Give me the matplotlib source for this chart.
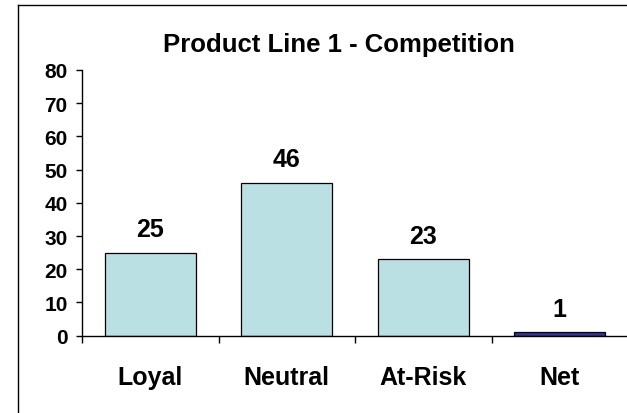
import matplotlib
matplotlib.use("Agg")
import matplotlib.pyplot as plt
from matplotlib.lines import Line2D
from matplotlib.ticker import MultipleLocator, FixedLocator

categories = ["Loyal", "Neutral", "At-Risk", "Net"]
values = [25, 46, 23, 1]
bar_colors = ["#BBE0E3", "#BBE0E3", "#BBE0E3", "#333399"]
title = "Product Line 1 - Competition"

plt.rcParams["font.family"] = ["Liberation Sans", "DejaVu Sans"]
plt.rcParams["font.weight"] = "bold"

W, H = 627, 414
fig = plt.figure(figsize=(W / 100, H / 100), dpi=100)
fig.patch.set_facecolor("white")

# chart-area frame (left and top edges visible)
fig.add_artist(Line2D([18 / W, 18 / W], [0, 1 - 6 / H], transform=fig.transFigure,
                      color="black", lw=1.0))
fig.add_artist(Line2D([18 / W, 1.0], [1 - 6 / H, 1 - 6 / H], transform=fig.transFigure,
                      color="black", lw=1.0))

ax = fig.add_axes([82 / W, (H - 336.7) / H, (628 - 82) / W, (336.7 - 71) / H])
x = list(range(len(categories)))
ax.bar(x, values, width=0.67, color=bar_colors, edgecolor="black", linewidth=0.9)

ax.set_xlim(-0.5, len(categories) - 0.5)
ax.set_ylim(0, 80)
ax.yaxis.set_major_locator(MultipleLocator(10))

for s in ["top", "right"]:
    ax.spines[s].set_visible(False)
for s in ["left", "bottom"]:
    ax.spines[s].set_linewidth(1.0)
ax.spines["bottom"].set_zorder(5)

ax.tick_params(axis="y", direction="out", length=4.3, width=1.0, pad=6,
               labelsize=15)
for lbl in ax.get_yticklabels():
    lbl.set_fontweight("bold")

ax.set_xticks(x)
ax.set_xticklabels(categories, fontsize=18, fontweight="bold")
ax.tick_params(axis="x", which="major", length=0, pad=21)
ax.xaxis.set_minor_locator(FixedLocator([i - 0.5 for i in range(len(categories) + 1)]))
ax.tick_params(axis="x", which="minor", direction="out", length=5, width=1.0)

for xi, v in zip(x, values):
    ax.annotate(f"{v}", (xi, v), xytext=(0, 12), textcoords="offset points",
                ha="center", va="baseline", fontsize=18, fontweight="bold")

fig.text(338.5 / W, 1 - 52 / H, title, ha="center", va="baseline",
         fontsize=18.5, fontweight="bold")

fig.savefig("out.png", dpi=100, facecolor="white")
